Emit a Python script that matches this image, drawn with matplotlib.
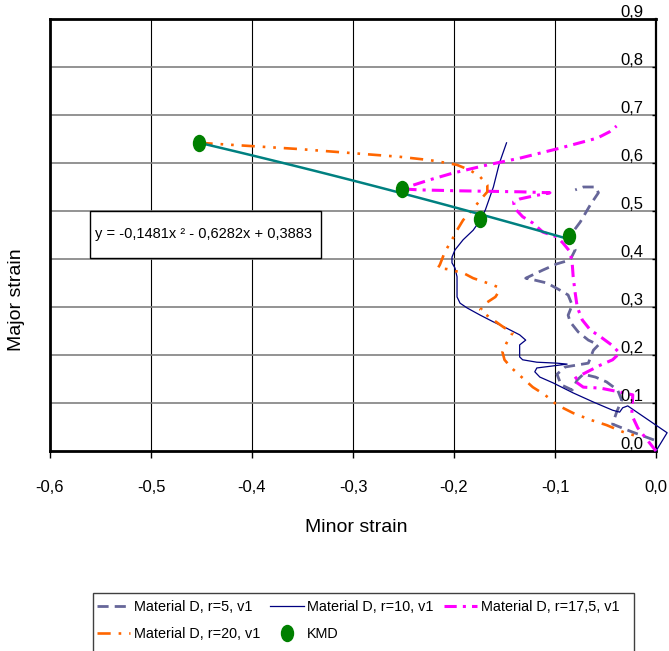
import numpy as np
import matplotlib
matplotlib.use("Agg")
import matplotlib.pyplot as plt
from matplotlib.markers import MarkerStyle
from matplotlib.transforms import Affine2D
from matplotlib.patches import Rectangle

plt.rcParams["font.family"] = ["Liberation Sans", "DejaVu Sans"]

# ---- data ----
r5_x = [-0.002, -0.024, -0.043, -0.039, -0.034, -0.038, -0.049, -0.060, -0.072, -0.078,
        -0.083, -0.094, -0.098, -0.090, -0.067, -0.062, -0.057, -0.067, -0.077, -0.085,
        -0.087, -0.083, -0.087, -0.095, -0.108, -0.120, -0.129, -0.112, -0.098, -0.085,
        -0.080, -0.086, -0.075, -0.065, -0.057, -0.060, -0.072, -0.080]
r5_y = [0.023, 0.040, 0.056, 0.081, 0.106, 0.127, 0.144, 0.154, 0.160, 0.148,
        0.127, 0.138, 0.160, 0.175, 0.183, 0.210, 0.221, 0.231, 0.248, 0.269,
        0.283, 0.304, 0.325, 0.335, 0.350, 0.356, 0.360, 0.377, 0.390, 0.398,
        0.419, 0.446, 0.477, 0.513, 0.538, 0.550, 0.550, 0.544]

r10_x = [-0.148, -0.155, -0.161, -0.169, -0.174, -0.181, -0.191, -0.199, -0.202, -0.202,
         -0.199, -0.197, -0.197, -0.194, -0.187, -0.174, -0.161, -0.148, -0.135, -0.129,
         -0.135, -0.135, -0.132, -0.118, -0.098, -0.088, -0.118, -0.120, -0.115, -0.102,
         -0.082, -0.062, -0.043, -0.036, -0.033, -0.028, 0.011, 0.0]
r10_y = [0.642, 0.600, 0.550, 0.502, 0.481, 0.460, 0.440, 0.419, 0.404, 0.392,
         0.381, 0.363, 0.321, 0.308, 0.298, 0.283, 0.269, 0.256, 0.242, 0.231,
         0.221, 0.196, 0.190, 0.185, 0.183, 0.181, 0.173, 0.165, 0.154, 0.142,
         0.121, 0.102, 0.085, 0.081, 0.090, 0.094, 0.038, 0.0]

r175_x = [0.0, -0.011, -0.018, -0.024, -0.023, -0.036, -0.055, -0.072, -0.082, -0.078,
          -0.068, -0.055, -0.043, -0.036, -0.044, -0.055, -0.065, -0.073, -0.078, -0.080,
          -0.082, -0.083, -0.085, -0.092, -0.098, -0.112, -0.122, -0.132, -0.140, -0.141,
          -0.135, -0.122, -0.105, -0.135, -0.194, -0.234, -0.252, -0.224, -0.201, -0.167,
          -0.135, -0.095, -0.058, -0.046, -0.039]
r175_y = [0.0, 0.029, 0.048, 0.075, 0.117, 0.123, 0.131, 0.133, 0.148, 0.154,
          0.165, 0.179, 0.190, 0.204, 0.221, 0.238, 0.252, 0.273, 0.300, 0.329,
          0.363, 0.392, 0.415, 0.433, 0.446, 0.456, 0.475, 0.488, 0.506, 0.519,
          0.525, 0.531, 0.538, 0.540, 0.542, 0.544, 0.546, 0.565, 0.579, 0.596,
          0.610, 0.631, 0.652, 0.665, 0.677]

r20_x = [-0.452, -0.353, -0.254, -0.224, -0.207, -0.197, -0.184, -0.174, -0.167, -0.167,
         -0.174, -0.182, -0.191, -0.197, -0.202, -0.209, -0.214, -0.216, -0.207, -0.191,
         -0.181, -0.167, -0.157, -0.156, -0.159, -0.167, -0.174, -0.171, -0.161, -0.151,
         -0.142, -0.148, -0.152, -0.150, -0.143, -0.132, -0.122, -0.110, -0.098, -0.082,
         -0.065, -0.049, -0.033, -0.016]
r20_y = [0.642, 0.629, 0.613, 0.606, 0.600, 0.596, 0.585, 0.571, 0.554, 0.540,
         0.523, 0.502, 0.481, 0.460, 0.440, 0.415, 0.388, 0.381, 0.379, 0.371,
         0.360, 0.350, 0.342, 0.331, 0.321, 0.310, 0.294, 0.288, 0.273, 0.258,
         0.246, 0.225, 0.206, 0.190, 0.173, 0.152, 0.133, 0.117, 0.096, 0.079,
         0.065, 0.054, 0.040, 0.029]

kmd_x = [-0.4525, -0.2515, -0.174, -0.086]
kmd_y = [0.642, 0.546, 0.483, 0.448]

fit_coef = [-0.1481, -0.6282, 0.3883]
fit_label = "y = -0,1481x \u00b2 - 0,6282x + 0,3883"

x_ticks = [-0.6, -0.5, -0.4, -0.3, -0.2, -0.1, 0.0]
x_tick_labels = ["-0,6", "-0,5", "-0,4", "-0,3", "-0,2", "-0,1", "0,0"]
y_ticks = [0.0, 0.1, 0.2, 0.3, 0.4, 0.5, 0.6, 0.7, 0.8, 0.9]
y_tick_labels = ["0,0", "0,1", "0,2", "0,3", "0,4", "0,5", "0,6", "0,7", "0,8", "0,9"]

series_labels = ["Material D, r=5, v1", "Material D, r=10, v1",
                 "Material D, r=17,5, v1", "Material D, r=20, v1", "KMD"]

# ---- figure ----
W, H = 669, 651
fig = plt.figure(figsize=(W / 100, H / 100), dpi=100)
ax = fig.add_axes([50 / W, 200 / H, 606 / W, 432 / H])
ax.set_xlim(-0.6, 0.0)
ax.set_ylim(0.0, 0.9)

for x in x_ticks[1:-1]:
    ax.axvline(x, color="black", lw=0.8, zorder=1)
for y in y_ticks[1:-1]:
    ax.axhline(y, color="#808080", lw=1.2, zorder=1)

l5, = ax.plot(r5_x, r5_y, color="#666699", lw=2.0, ls=(0, (4, 2.2)), clip_on=False, zorder=3)
l10, = ax.plot(r10_x, r10_y, color="#000080", lw=0.9, clip_on=False, zorder=3)
l175, = ax.plot(r175_x, r175_y, color="#FF00FF", lw=2.2, ls=(0, (4, 2, 1, 2)), clip_on=False, zorder=3)
l20, = ax.plot(r20_x, r20_y, color="#FF6600", lw=1.9, ls=(0, (5, 3, 1, 3, 1, 3)), clip_on=False, zorder=3)

fx = np.linspace(min(kmd_x), max(kmd_x), 100)
ax.plot(fx, np.polyval(fit_coef, fx), color="#008080", lw=1.8, zorder=4)

ell = MarkerStyle("o", transform=Affine2D().scale(0.75, 1.0))
lk, = ax.plot(kmd_x, kmd_y, ls="none", marker=ell, ms=11.5, color="#008000", zorder=5)

for side in ["left", "top", "bottom"]:
    ax.spines[side].set_linewidth(2.0)
ax.spines["right"].set_linewidth(1.6)

ax.set_xticks(x_ticks)
ax.set_xticklabels(x_tick_labels, fontsize=12)
ax.tick_params(axis="x", direction="out", length=5, width=1, pad=16)
ax.yaxis.tick_right()
ax.set_yticks(y_ticks)
ax.tick_params(axis="y", direction="in", length=3, width=1, labelright=False)
for y, lab in zip(y_ticks, y_tick_labels):
    ax.annotate(lab, (0.0, y), xytext=(-9, 1.5), textcoords="offset points",
                ha="right", va="baseline", fontsize=12, annotation_clip=False)

fig.text(356 / W, 1 - 528 / H, "Minor strain", ha="center", va="center", fontsize=14)
fig.text(17 / W, 1 - 300 / H, "Major strain", ha="center", va="center",
         rotation=90, fontsize=14)

# equation box
fig.patches.append(Rectangle((90 / W, 1 - 258 / H), 231 / W, 47 / H,
                             transform=fig.transFigure, fc="white", ec="black", lw=1, zorder=6))
fig.text(203 / W, 1 - 234 / H, fit_label, ha="center", va="center", fontsize=10.5, zorder=7)

# legend
fig.patches.append(Rectangle((93 / W, -0.02), 541 / W, 1 - 593 / H + 0.02,
                             transform=fig.transFigure, fc="white", ec="#404040", lw=1))
handles = [l5, l20, l10, lk, l175]
labels = [series_labels[0], series_labels[3], series_labels[1], series_labels[4], series_labels[2]]
fig.legend(handles, labels, loc="upper left", bbox_to_anchor=(97 / W, 1 - 600 / H),
           ncol=3, frameon=False, fontsize=10.4, handlelength=2.3, handletextpad=0.25,
           columnspacing=0.7, labelspacing=0.9, borderpad=0, borderaxespad=0)

fig.savefig("out.png", dpi=100)
